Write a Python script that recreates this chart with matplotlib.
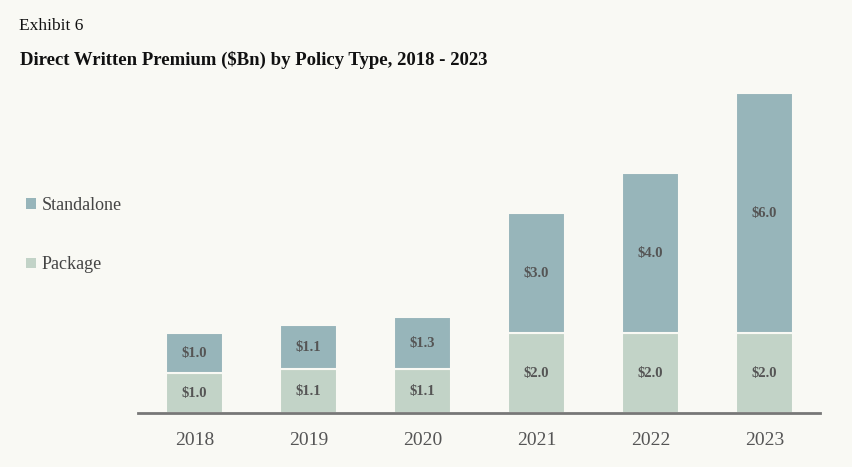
import matplotlib
matplotlib.use("Agg")
import matplotlib.pyplot as plt
from matplotlib.patches import Patch

years = ["2018", "2019", "2020", "2021", "2022", "2023"]
package = [1.0, 1.1, 1.1, 2.0, 2.0, 2.0]
standalone = [1.0, 1.1, 1.3, 3.0, 4.0, 6.0]

c_stand = "#97B5BA"
c_pack = "#C2D3C7"
bg = "#F9F9F4"
txt = "#555555"

plt.rcParams['font.family'] = ['Liberation Serif', 'DejaVu Serif']

fig = plt.figure(figsize=(8.52, 4.67), dpi=100, facecolor=bg)
ax = fig.add_axes([138/852, 1-413/467, (820-138)/852, (413-87)/467])
ax.set_facecolor(bg)

x = list(range(len(years)))
ax.bar(x, package, width=0.5, color=c_pack, edgecolor=bg, linewidth=1.5)
ax.bar(x, standalone, width=0.5, bottom=package, color=c_stand, edgecolor=bg, linewidth=1.5)

for i in x:
    ax.text(i, package[i]/2, f"${package[i]:.1f}", ha='center', va='center',
            fontsize=10.5, fontweight='bold', color=txt)
    ax.text(i, package[i] + standalone[i]/2, f"${standalone[i]:.1f}", ha='center', va='center',
            fontsize=10.5, fontweight='bold', color=txt)

ax.set_xlim(-0.496, 5.487)
ax.set_ylim(0, 8.15)
ax.set_xticks(x)
ax.set_xticklabels(years, fontsize=14, color=txt)
ax.tick_params(axis='x', length=0, pad=14)
ax.set_yticks([])
for s in ['top', 'right', 'left']:
    ax.spines[s].set_visible(False)
ax.spines['bottom'].set_color('#777777')
ax.spines['bottom'].set_linewidth(2)

fig.text(19/852, 1-26/467, "Exhibit 6", fontsize=12.5, color='#111111', va='center', ha='left')
fig.text(20/852, 1-60/467, "Direct Written Premium ($Bn) by Policy Type, 2018 - 2023",
         fontsize=13.5, fontweight='bold', color='#111111', va='center', ha='left')

handles = [Patch(facecolor=c_stand), Patch(facecolor=c_pack)]
leg = fig.legend(handles, ["Standalone", "Package"], loc='upper left',
                 bbox_to_anchor=(26/852, 1-197/467), frameon=False,
                 borderaxespad=0, borderpad=0,
                 handlelength=0.55, handleheight=0.55, handletextpad=0.3,
                 labelspacing=2.35, fontsize=13)
for t in leg.get_texts():
    t.set_color('#444444')

fig.savefig("out.png", dpi=100, facecolor=bg)
